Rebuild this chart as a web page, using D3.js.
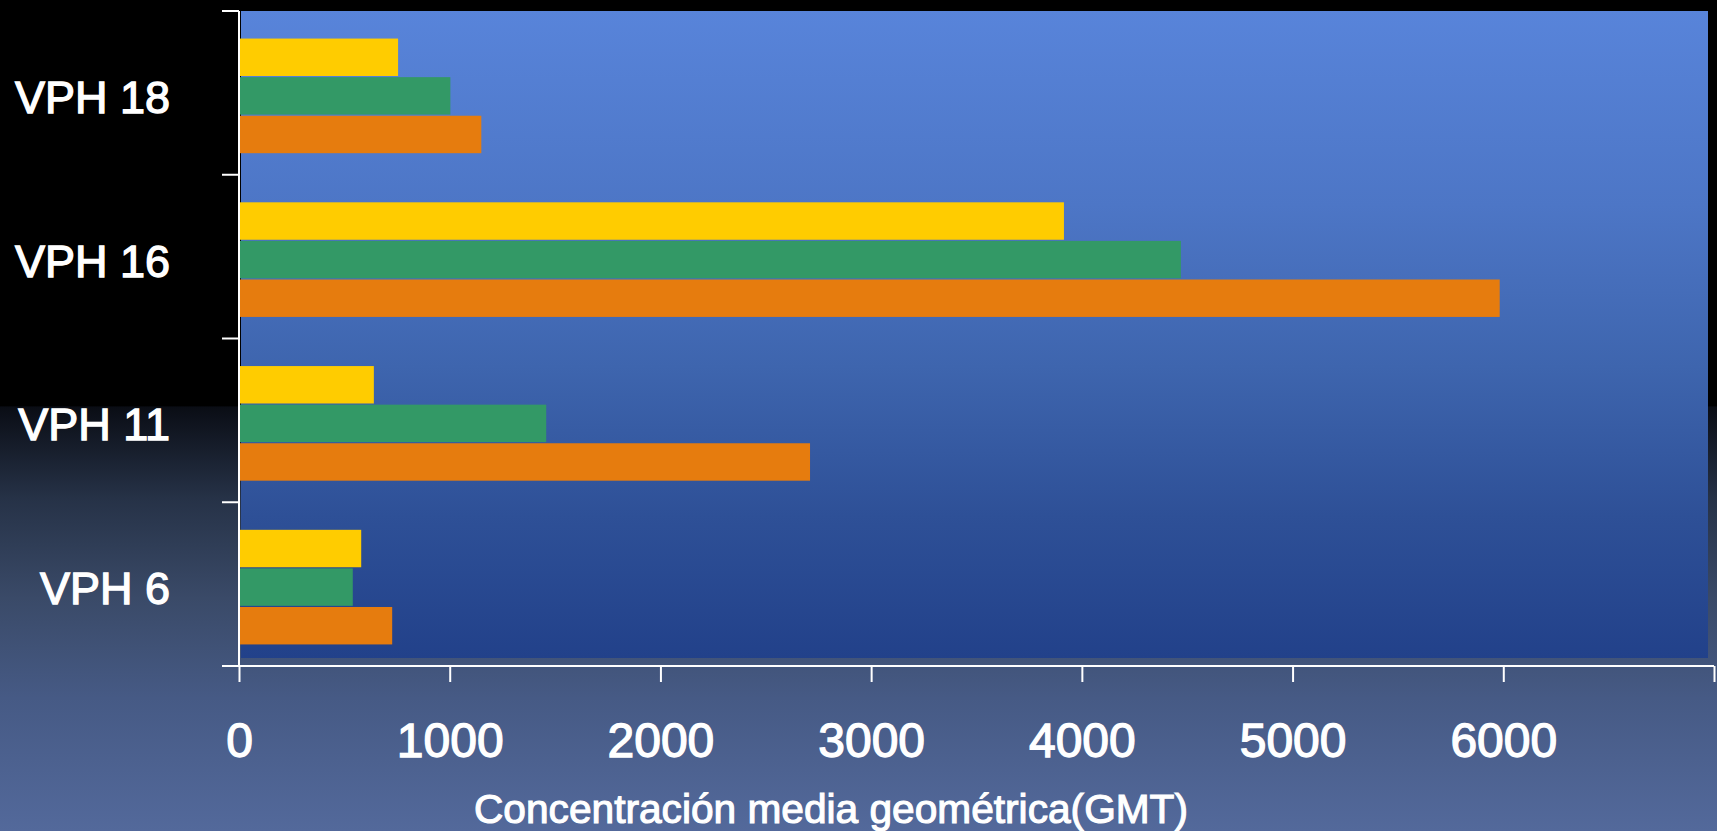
<!DOCTYPE html>
<html>
<head>
<meta charset="utf-8">
<script src="https://cdn.jsdelivr.net/npm/d3@7/dist/d3.min.js"></script>
<style>
  html, body { margin: 0; padding: 0; background: #000; }
  svg { display: block; }
</style>
</head>
<body>
<svg id="chart" width="1717" height="831"></svg>
<script>
// ---- data ----
const categories = ["VPH 18", "VPH 16", "VPH 11", "VPH 6"];
const seriesNames = ["serie3", "serie2", "serie1"];          // top-to-bottom inside each group
const seriesColors = ["#ffcc00", "#339966", "#e67c0e"];
const serie3Values = [755, 3915, 640, 580];    // yellow
const serie2Values = [1003, 4470, 1458, 540];  // green
const serie1Values = [1150, 5983, 2710, 727];  // orange
const xTicks = [0, 1000, 2000, 3000, 4000, 5000, 6000, 7000];
const xTickLabels = ["0", "1000", "2000", "3000", "4000", "5000", "6000", ""];
const xTitle = "Concentración media geométrica(GMT)";

const seriesValues = [serie3Values, serie2Values, serie1Values];

const W = 1717, H = 831;
const FONT = "'Liberation Sans', Arial, sans-serif";
const svg = d3.select("#chart");
const defs = svg.append("defs");

// page background
const pg = defs.append("linearGradient").attr("id", "pageGrad")
  .attr("x1", 0).attr("y1", 0).attr("x2", 0).attr("y2", 1);
[[0, "#000000"], [0.488, "#000000"], [0.49, "#0a0d15"], [0.6, "#263247"],
 [0.72, "#3a4a68"], [0.84, "#465a85"], [1, "#53699b"]]
  .forEach(([o, c]) => pg.append("stop").attr("offset", o).attr("stop-color", c));
svg.append("rect").attr("width", W).attr("height", H).attr("fill", "url(#pageGrad)");

// plot area background
const bg = defs.append("linearGradient").attr("id", "plotGrad")
  .attr("x1", 0).attr("y1", 0).attr("x2", 0).attr("y2", 1);
[[0, "#5884da"], [0.3, "#4d76c6"], [0.55, "#3e65ae"], [0.78, "#2e5097"], [1, "#22418a"]]
  .forEach(([o, c]) => bg.append("stop").attr("offset", o).attr("stop-color", c));

const x = d3.scaleLinear().domain([0, 7000]).range([239, 1714]);
const y = d3.scaleBand().domain(categories).range([11, 666]).paddingInner(0.3).paddingOuter(0.15);
const ySub = d3.scaleBand().domain(seriesNames).range([0, y.bandwidth()]).paddingInner(0.03);
const groupShift = 3;

svg.append("rect")
  .attr("x", 241).attr("y", 11)
  .attr("width", 1708 - 241).attr("height", 658 - 11)
  .attr("fill", "url(#plotGrad)");

// bars
seriesNames.forEach((s, si) => {
  svg.append("g").selectAll("rect")
    .data(categories.map((c, ci) => ({ c, v: seriesValues[si][ci] })))
    .join("rect")
    .attr("x", x(0))
    .attr("y", d => y(d.c) + groupShift + ySub(s))
    .attr("width", d => x(d.v) - x(0))
    .attr("height", ySub.bandwidth())
    .attr("fill", seriesColors[si]);
});

function textStyle(sel, size) {
  sel.attr("fill", "#fff")
    .attr("stroke", "#fff")
    .attr("stroke-width", 1.3)
    .style("font-family", FONT)
    .style("font-size", size + "px");
}

// x axis
const xAxis = svg.append("g").attr("transform", `translate(0,666)`)
  .call(d3.axisBottom(x).tickValues(xTicks).tickSize(16).tickFormat((d, i) => xTickLabels[i]));
xAxis.select(".domain").attr("stroke", "#fff").attr("stroke-width", 2)
  .attr("d", `M${x(0) - 17},0H${x(7000)}`);
xAxis.selectAll(".tick line").attr("stroke", "#fff").attr("stroke-width", 2);
xAxis.selectAll(".tick text")
  .attr("y", 0).attr("dy", 0)
  .attr("transform", "translate(0,91)")
  .call(textStyle, 48);

// y axis (category boundaries as ticks)
const yAxisG = svg.append("g");
yAxisG.append("line")
  .attr("x1", x(0)).attr("x2", x(0)).attr("y1", 11).attr("y2", 666)
  .attr("stroke", "#fff").attr("stroke-width", 2);
const boundaries = categories.map((c, i) => i === 0 ? 11 : y(c) - y.step() * y.paddingInner() / 2);
boundaries.push(666);
yAxisG.selectAll("line.tick").data(boundaries).join("line").attr("class", "tick")
  .attr("x1", x(0) - 17).attr("x2", x(0)).attr("y1", d => d).attr("y2", d => d)
  .attr("stroke", "#fff").attr("stroke-width", 2);

yAxisG.selectAll("text").data(categories).join("text")
  .attr("x", 170)
  .attr("y", c => y(c) + groupShift + y.bandwidth() / 2 + 17)
  .attr("text-anchor", "end")
  .call(textStyle, 45)
  .text(c => c);

// axis title
svg.append("text")
  .attr("x", 831).attr("y", 823)
  .attr("text-anchor", "middle")
  .attr("textLength", 714)
  .attr("lengthAdjust", "spacingAndGlyphs")
  .call(textStyle, 40)
  .attr("stroke-width", 1.1)
  .text(xTitle);
</script>
</body>
</html>
